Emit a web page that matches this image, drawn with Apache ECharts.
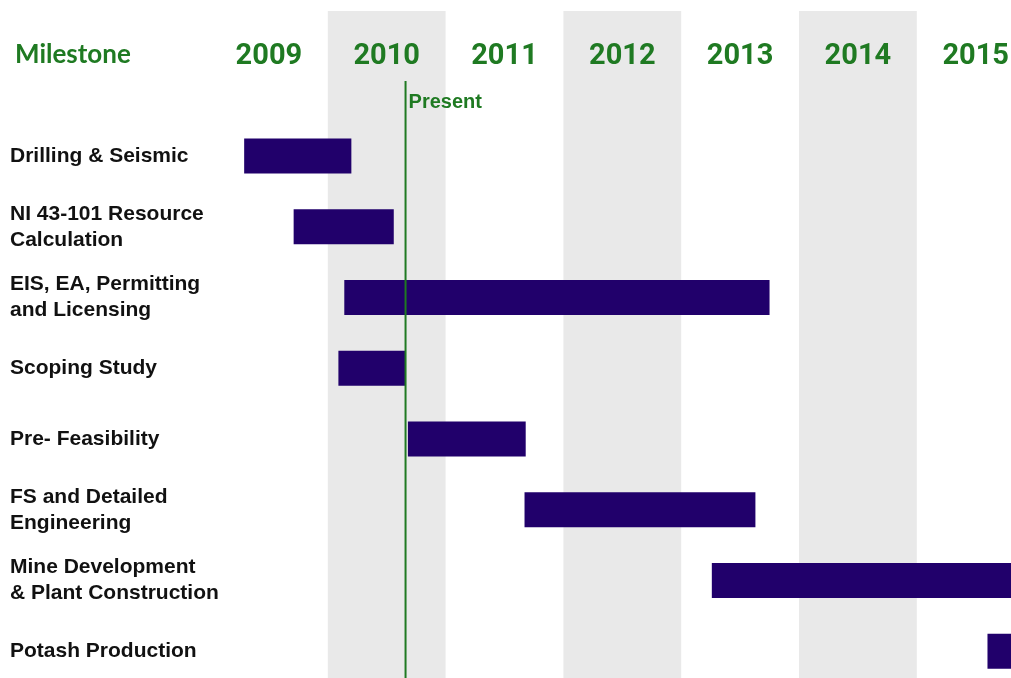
<!DOCTYPE html>
<html><head><meta charset="utf-8">
<script src="https://cdn.jsdelivr.net/npm/echarts@6/dist/echarts.min.js"></script>
<style>html,body{margin:0;padding:0;background:#fff}#c{width:1011px;height:678px}</style>
</head><body><div id="c"></div>
<script>
const years = ['2009','2010','2011','2012','2013','2014','2015'];
const milestones = ['Drilling & Seismic','NI 43-101 Resource\nCalculation','EIS, EA, Permitting\nand Licensing','Scoping Study','Pre- Feasibility','FS and Detailed\nEngineering','Mine Development\n& Plant Construction','Potash Production'];
const starts = [2009.29, 2009.71, 2010.14, 2010.09, 2010.68, 2011.67, 2013.26, 2015.60];
const ends   = [2010.20, 2010.56, 2013.75, 2010.66, 2011.68, 2013.63, 2016.00, 2016.00];
const present = 2010.66;
const axisMin = 2009, axisMax = 2016;

const green = '#1f7a22';
const barColor = '#21006b';
const L = 210, W = 824.6;
const chart = echarts.init(document.getElementById('c'));
chart.setOption({
  animation: false,
  title: { text: 'Milestone', left: 10, top: 37, textStyle: { fontFamily: 'Lato', fontWeight: 'bold', fontSize: 26, color: green } },
  grid: [
    { left: L, width: W, top: 11, height: 680, outerBoundsMode: 'none' },
    { left: L, width: W, top: 120.6, height: 566, outerBoundsMode: 'none' },
    { left: L, width: W, top: 81, height: 610, outerBoundsMode: 'none' }
  ],
  xAxis: [
    { gridIndex: 0, type: 'category', data: years, position: 'top', boundaryGap: true,
      axisLine: { show: false }, axisTick: { show: false },
      axisLabel: { inside: true, margin: 46, verticalAlign: 'middle', fontFamily: 'Roboto', fontWeight: 'bold', fontSize: 29, color: green },
      splitArea: { show: true, areaStyle: { color: ['rgba(255,255,255,0)', '#e9e9e9'] } },
      splitLine: { show: false } },
    { gridIndex: 1, type: 'value', min: axisMin, max: axisMax, show: false },
    { gridIndex: 2, type: 'value', min: axisMin, max: axisMax, show: false }
  ],
  yAxis: [
    { gridIndex: 0, type: 'value', show: false },
    { gridIndex: 1, type: 'category', data: milestones, inverse: true,
      axisLine: { show: false }, axisTick: { show: false }, splitLine: { show: false },
      axisLabel: { align: 'left', margin: 200, padding: [0, 0, 5, 0], fontFamily: 'Liberation Sans', fontWeight: 'bold', fontSize: 21, lineHeight: 26, color: '#111' } },
    { gridIndex: 2, type: 'value', min: 0, max: 1, show: false }
  ],
  series: [
    { type: 'bar', xAxisIndex: 1, yAxisIndex: 1, stack: 'g', barWidth: 35, silent: true,
      itemStyle: { color: 'rgba(0,0,0,0)' }, data: starts },
    { type: 'bar', xAxisIndex: 1, yAxisIndex: 1, stack: 'g', barWidth: 35,
      itemStyle: { color: barColor }, data: ends.map((e, i) => +(e - starts[i]).toFixed(2)) },
    { type: 'line', xAxisIndex: 2, yAxisIndex: 2, symbol: 'circle', symbolSize: 0.1,
      lineStyle: { color: green, width: 2 }, itemStyle: { color: green },
      data: [[present, 0], { value: [present, 1], label: { show: true, formatter: 'Present', position: 'right', offset: [0, 21], distance: 3,
        fontFamily: 'Liberation Sans', fontWeight: 'bold', fontSize: 20, color: green } }] }
  ]
});
</script></body></html>
